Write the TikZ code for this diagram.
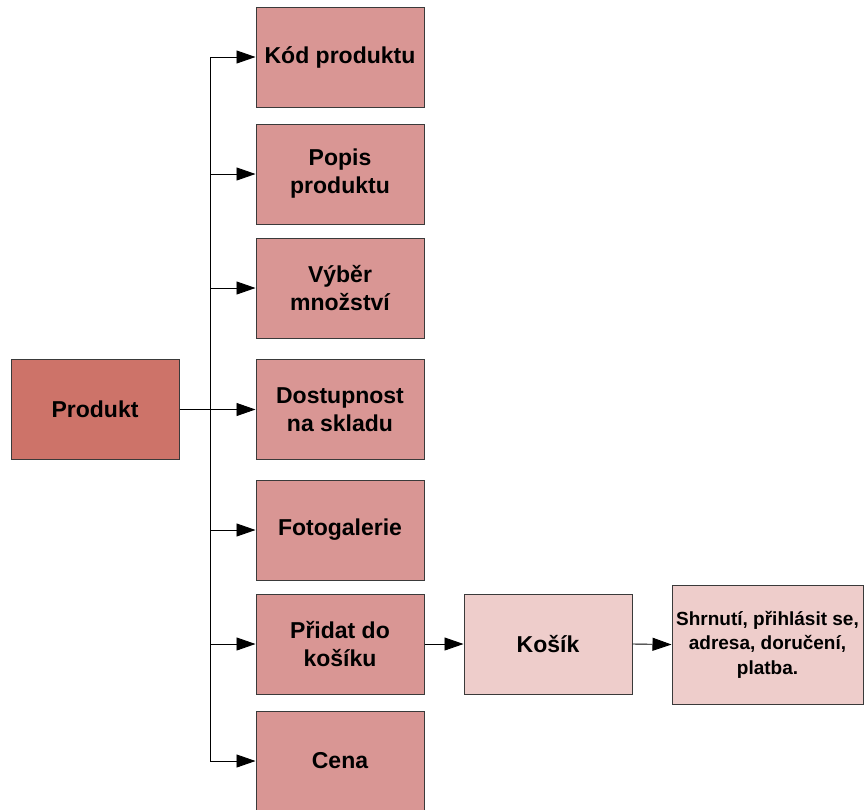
\documentclass[tikz,border=0pt]{standalone}
\usepackage{fontspec}
\setmainfont{Liberation Sans}
\usetikzlibrary{arrows.meta}
\definecolor{rootfill}{HTML}{CD7369}
\definecolor{itemfill}{HTML}{D99694}
\definecolor{cartfill}{HTML}{EECDCB}
\definecolor{edgegray}{HTML}{3A3A3A}
\begin{document}
\begin{tikzpicture}[x=1pt,y=-1pt,
  box/.style={draw=edgegray,line width=1pt,minimum width=168pt,minimum height=100pt,
    inner sep=0pt,align=center,font=\fontsize{23}{28}\selectfont\bfseries},
  rootbox/.style={box,fill=rootfill},
  itembox/.style={box,fill=itemfill},
  cartbox/.style={box,fill=cartfill},
  link/.style={line width=0.9pt,-{Triangle[length=19pt,width=13pt]}},
  trunk/.style={line width=0.9pt}]
\useasboundingbox (0,0) rectangle (864,809);

% root item
\node[rootbox] (prod) at (95,409.5) {Produkt};

% product detail column
\node[itembox] (kod)   at (340,57)  {Kód produktu};
\node[itembox] (popis) at (340,174) {Popis\\produktu};
\node[itembox] (vyber) at (340,288) {Výběr\\množství};
\node[itembox] (dost)  at (340,409.5) {Dostupnost\\na skladu};
\node[itembox] (foto)  at (340,530) {Fotogalerie};
\node[itembox] (pridat) at (340,644) {Přidat do\\košíku};
\node[itembox] (cena)  at (340,761) {Cena};

% checkout chain
\node[cartbox] (kosik) at (548,644) {Košík};
\node[cartbox,minimum width=191pt,minimum height=119pt,
  font=\fontsize{19}{24.5}\selectfont\bfseries] (shrn) at (767.5,644.5)
  {Shrnutí, přihlásit se,\\adresa, doručení,\\platba.};

% vertical distribution bus
\coordinate (bt) at (210,57);
\coordinate (bb) at (210,761);
\draw[trunk] (bt) -- (bb);

\draw[link] (bt) -- (kod.west);
\draw[link] (210,174) -- (popis.west);
\draw[link] (210,288) -- (vyber.west);
\draw[link] (prod.east) -- (dost.west);
\draw[link] (210,530) -- (foto.west);
\draw[link] (210,644) -- (pridat.west);
\draw[link] (bb) -- (cena.west);

\draw[link] (pridat.east) -- (kosik.west);
\draw[link] (kosik.east) -- (shrn.west);
\end{tikzpicture}
\end{document}
